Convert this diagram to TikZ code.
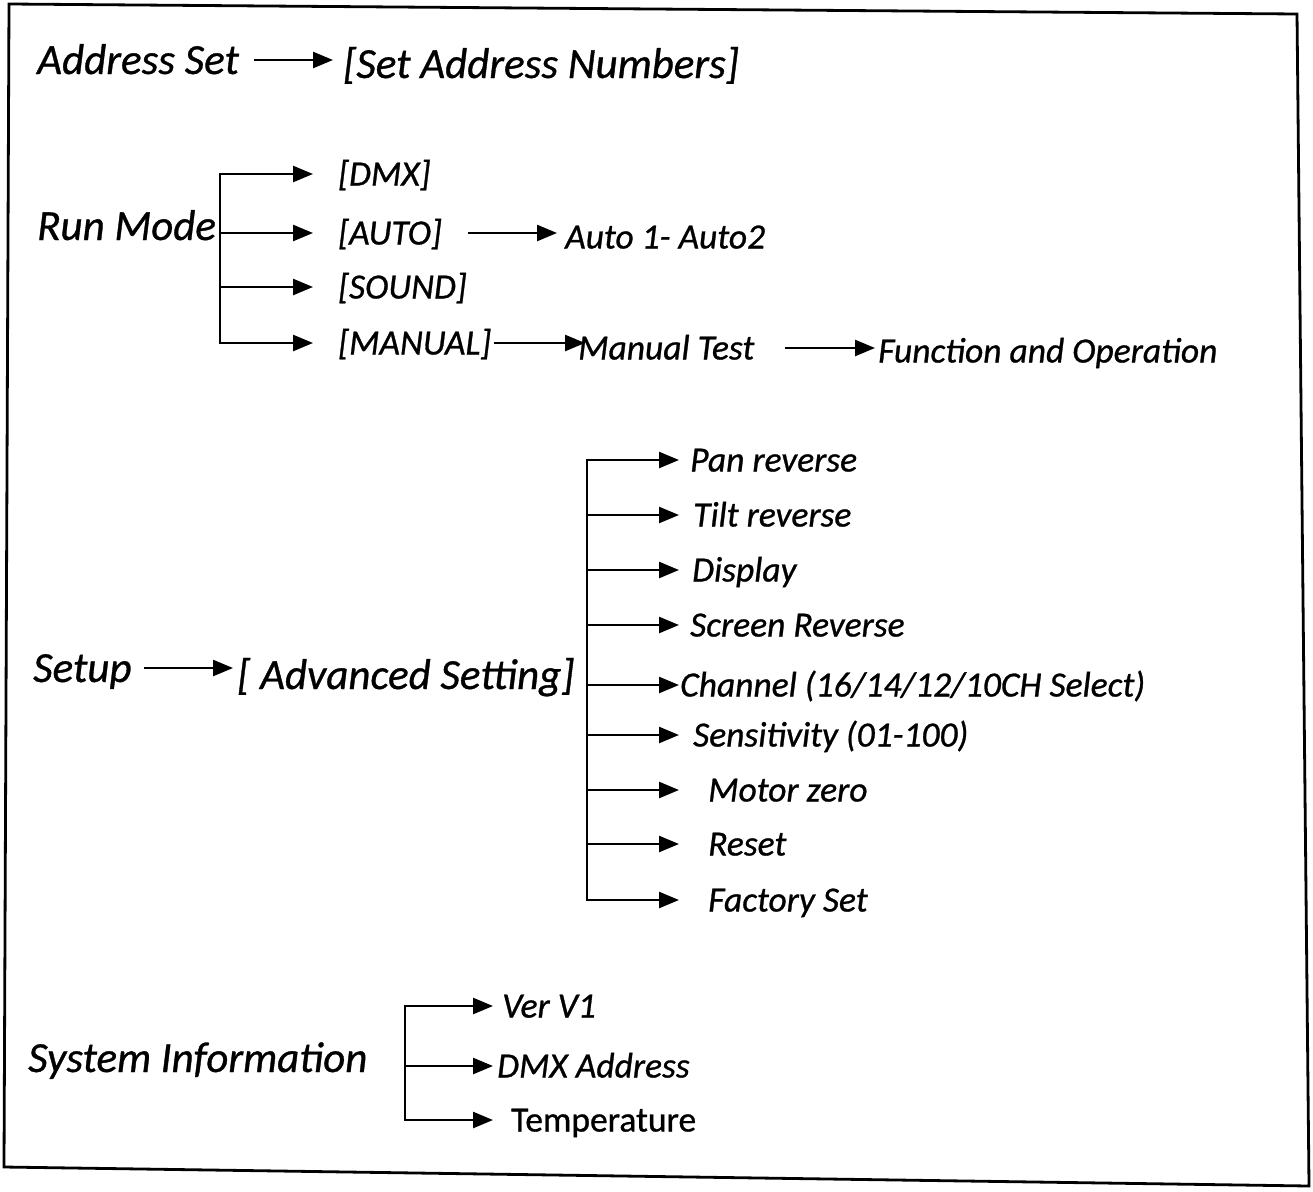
\documentclass[tikz,border=0pt]{standalone}
\usepackage{fontspec}
\setmainfont{Carlito}[UprightFeatures={FakeBold=0.8}, ItalicFeatures={FakeBold=0.8}]
\usetikzlibrary{arrows.meta}
\tikzset{
  big/.style={font=\fontsize{43}{50}\selectfont\itshape, anchor=west, inner sep=0pt, text height=28pt, text depth=0pt},
  small/.style={font=\fontsize{35.5}{42}\selectfont\itshape, anchor=west, inner sep=0pt, text height=23pt, text depth=0pt},
  smallup/.style={small, font=\fontsize{35.5}{42}\selectfont\upshape},
  arr/.style={line width=2.5pt, -{Triangle[length=20pt,width=16pt]}},
  frame/.style={line width=2.8pt, line join=miter}
}
\begin{document}
\begin{tikzpicture}[x=1pt,y=-1pt]
\useasboundingbox (0,0) rectangle (1313,1191);
\draw[frame] (9,4) -- (1297,14) -- (1309,1186) -- (4,1167) -- cycle;

% Address Set
\node[big] (addr) at (37,60) {Address Set};
\node[big] (setaddr) at (343,64) {[Set Address Numbers]};
\draw[arr, shorten <=15pt, shorten >=10pt] (addr.east) -- (addr.east -| setaddr.west);

% Run Mode
\node[big] (run) at (37,226) {Run Mode};
\node[small] (dmx) at (338,174) {[DMX]};
\node[small] (auto) at (338,233) {[AUTO]};
\node[small] (sound) at (338,287) {[SOUND]};
\node[small] (manual) at (338,343) {[MANUAL]};
\node[small] (auto1) at (565,237) {Auto 1- Auto2};
\node[small] (mtest) at (578,348) {Manual Test};
\node[small] (func) at (878,351) {Function and Operation};
\coordinate (rsp) at (220,0);
\coordinate (rtip) at (313,0);
\draw[arr] (rsp |- manual.west) |- (rtip |- dmx.west);
\draw[arr] (rsp |- dmx.west) |- (rtip |- manual.west);
\draw[arr] (rsp |- auto.west) -- (rtip |- auto.west);
\draw[arr] (rsp |- sound.west) -- (rtip |- sound.west);
\draw[arr, shorten <=26pt, shorten >=8pt] (auto.east) -- (auto.east -| auto1.west);
\draw[arr, shorten <=3pt, shorten >=-7pt] (manual.east) -- (manual.east -| mtest.west);
\draw[arr, shorten <=30pt, shorten >=3pt] (mtest.east) -- (mtest.east -| func.west);

% Setup
\node[big] (setup) at (33,668) {Setup};
\node[big] (adv) at (237,675) {[ Advanced Setting]};
\draw[arr, shorten <=12pt, shorten >=4pt] (setup.east) -- (setup.east -| adv.west);
\node[small] (pan) at (690,460) {Pan reverse};
\node[small] (tilt) at (693,515) {Tilt reverse};
\node[small] (disp) at (692,570) {Display};
\node[small] (scr) at (690,625) {Screen Reverse};
\node[small] (chan) at (680,685) {Channel (16/14/12/10CH Select)};
\node[small] (sens) at (693,735) {Sensitivity (01-100)};
\node[small] (motor) at (708,790) {Motor zero};
\node[small] (reset) at (708,844) {Reset};
\node[small] (fact) at (708,900) {Factory Set};
\coordinate (ssp) at (587,0);
\coordinate (stip) at (679,0);
\draw[arr] (ssp |- fact.west) |- (stip |- pan.west);
\draw[arr] (ssp |- pan.west) |- (stip |- fact.west);
\foreach \n in {tilt,disp,scr,chan,sens,motor,reset}
  \draw[arr] (ssp |- \n.west) -- (stip |- \n.west);

% System Information
\node[big] (sys) at (28,1058) {System Information};
\node[small] (ver) at (502,1006) {Ver V1};
\node[small] (dmxa) at (497,1066) {DMX Address};
\node[smallup] (temp) at (511,1120) {Temperature};
\coordinate (ysp) at (405,0);
\coordinate (ytip) at (493,0);
\draw[arr] (ysp |- temp.west) |- (ytip |- ver.west);
\draw[arr] (ysp |- ver.west) |- (ytip |- temp.west);
\draw[arr] (ysp |- dmxa.west) -- (ytip |- dmxa.west);
\end{tikzpicture}
\end{document}
